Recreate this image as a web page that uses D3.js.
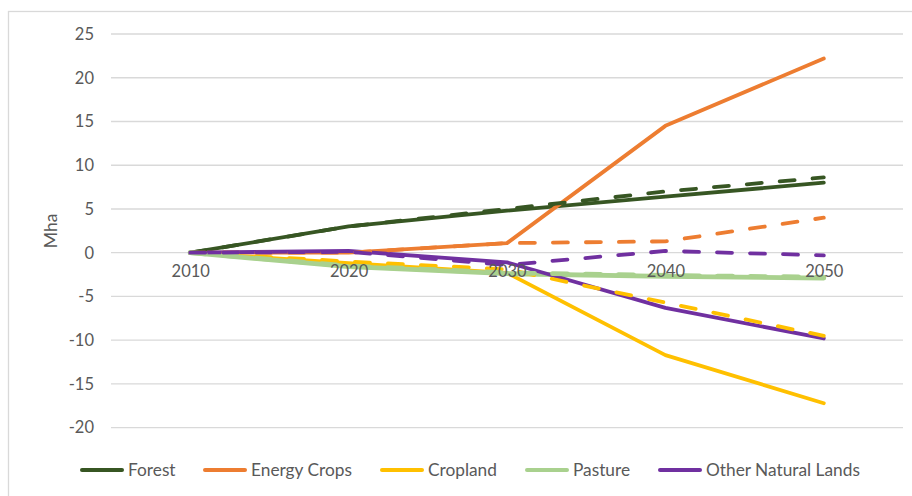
<!DOCTYPE html>
<html><head><meta charset="utf-8">
<script src="https://cdn.jsdelivr.net/npm/d3@7"></script>
<style>
html,body{margin:0;padding:0;background:#fff;}
svg{display:block;}
text{font-family:Lato,"Open Sans",sans-serif;fill:#595959;}
</style></head>
<body>
<svg id="chart" width="912" height="496"></svg>
<script>
const years = ["2010","2020","2030","2040","2050"];
const yTicks = [-20,-15,-10,-5,0,5,10,15,20,25];
const seriesNames = ["Forest","Energy Crops","Cropland","Pasture","Other Natural Lands"];
const seriesColors = ["#375623","#ED7D31","#FFC000","#A9D18E","#7030A0"];
const forest = [0, 3.0, 4.8, 6.4, 8.0];
const energyCrops = [0, 0, 1.1, 14.5, 22.2];
const cropland = [0, -1.2, -2.3, -11.7, -17.2];
const pasture = [0, -1.6, -2.4, -2.7, -2.9];
const otherNatural = [0, 0.2, -1.1, -6.3, -9.8];
const forestAlt = [0, 3.0, 5.0, 7.0, 8.6];
const energyCropsAlt = [0, 0, 1.1, 1.3, 4.0];
const croplandAlt = [0, -1.0, -1.9, -5.7, -9.5];
const pastureAlt = [0, -1.5, -2.3, -2.6, -2.8];
const otherNaturalAlt = [0, 0.1, -1.4, 0.2, -0.3];

const solid = [forest, energyCrops, cropland, pasture, otherNatural];
const dashed = [forestAlt, energyCropsAlt, croplandAlt, pastureAlt, otherNaturalAlt];

const svg = d3.select("#chart");
// chart frame
svg.append("rect").attr("x",8.5).attr("y",11.5).attr("width",940).attr("height",520)
  .attr("fill","none").attr("stroke","#d9d9d9").attr("stroke-width",1.3);

const x = d3.scalePoint().domain(years).range([111,903]).padding(0.5);
const y = d3.scaleLinear().domain([-20,25]).range([427.7,34]);

// y axis labels
const yAxis = d3.axisLeft(y).tickValues(yTicks).tickSize(0).tickPadding(17).tickFormat(d=>String(d));
const yg = svg.append("g").attr("transform","translate(111,0)").call(yAxis);
yg.select(".domain").remove();
yg.selectAll("text").attr("font-size",16.5).style("font-family","Lato").attr("fill","#595959");
// gridlines
svg.append("g").selectAll("line").data(yTicks).join("line")
  .attr("x1",111).attr("x2",903).attr("y1",d=>y(d)).attr("y2",d=>y(d))
  .attr("stroke","#d9d9d9").attr("stroke-width",1.3);

const line = d3.line().x((d,i)=>x(years[i])).y(d=>y(d));
const lw = [3.8,3.8,3.8,4.8,3.8];
svg.append("g").selectAll("path").data(solid).join("path")
  .attr("d",line).attr("fill","none").attr("stroke",(d,i)=>seriesColors[i])
  .attr("stroke-width",(d,i)=>lw[i]).attr("stroke-linejoin","round").attr("stroke-linecap","round");
svg.append("g").selectAll("path").data(dashed).join("path")
  .attr("d",line).attr("fill","none").attr("stroke",(d,i)=>seriesColors[i])
  .attr("stroke-width",(d,i)=>lw[i]).attr("stroke-linejoin","round").attr("stroke-linecap","round")
  .attr("stroke-dasharray","15,18");

// x axis labels at y=0
const xAxis = d3.axisBottom(x).tickSize(0).tickPadding(13);
const xg = svg.append("g").attr("transform",`translate(0,${y(0)})`).call(xAxis);
xg.select(".domain").remove();
xg.selectAll("text").attr("font-size",16.5).style("font-family","Lato").attr("fill","#595959");

// y title
svg.append("text").attr("transform",`translate(57,${(y(25)+y(-20))/2}) rotate(-90)`)
  .attr("text-anchor","middle").attr("font-size",17.5).text("Mha");

// legend
const legX = [80,203,380,525,658];
const lg = svg.append("g").selectAll("g").data(seriesNames).join("g")
  .attr("transform",(d,i)=>`translate(${legX[i]},470)`);
lg.append("line").attr("x1",2).attr("x2",42).attr("y1",0).attr("y2",0)
  .attr("stroke",(d,i)=>seriesColors[i]).attr("stroke-width",4).attr("stroke-linecap","round");
lg.append("text").attr("x",48).attr("y",6).attr("font-size",17.3).text(d=>d);
</script>
</body></html>
